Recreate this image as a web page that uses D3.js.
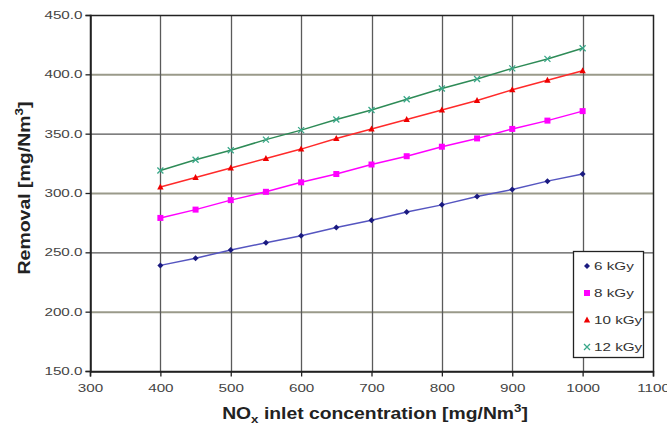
<!DOCTYPE html>
<html><head><meta charset="utf-8">
<script src="https://cdn.jsdelivr.net/npm/d3@7/dist/d3.min.js"></script>
<style>body{margin:0;background:#fff}svg{display:block}</style>
</head><body><svg id="c" width="667" height="427"></svg>
<script>
const xValues = [400,450,500,550,600,650,700,750,800,850,900,950,1000];
const s6  = [239,245,252,258,264,271,277,284,290,297,303,310,316];
const s8  = [279,286,294,301,309,316,324,331,339,346,354,361,369];
const s10 = [305,313,321,329,337,346,354,362,370,378,387,395,403];
const s12 = [319,328,336,345,353,362,370,379,388,396,405,413,422];
const seriesNames = ["6 kGy","8 kGy","10 kGy","12 kGy"];
const xTicks = [300,400,500,600,700,800,900,1000,1100];
const yTicks = [150,200,250,300,350,400,450];

const series = [
  {name: seriesNames[0], vals: s6,  line:"#5555c0", mark:"#1a1a80", shape:"diamond"},
  {name: seriesNames[1], vals: s8,  line:"#ff00ff", mark:"#ff00ff", shape:"square"},
  {name: seriesNames[2], vals: s10, line:"#ff2a2a", mark:"#ee0000", shape:"triangle"},
  {name: seriesNames[3], vals: s12, line:"#2e8b57", mark:"#3aa88a", shape:"cross"}
];

const FONT = "Arial, 'Liberation Sans', sans-serif";
const STRETCH = 1.45;
function stretch(sel){
  sel.each(function(){
    const w = this.getComputedTextLength();
    d3.select(this).attr("textLength", w*STRETCH).attr("lengthAdjust","spacingAndGlyphs");
  });
}

const svg = d3.select("#c");
const L=90,R=653,T=15,B=371;
const x = d3.scaleLinear().domain([300,1100]).range([L,R]);
const y = d3.scaleLinear().domain([150,450]).range([B,T]);

// gridlines
svg.append("g").selectAll("line").data(yTicks.filter(d=>d>150&&d<450)).join("line")
  .attr("x1",L).attr("x2",R).attr("y1",d=>y(d)+0.5).attr("y2",d=>y(d)+0.5)
  .attr("stroke",d=>(d%100===0)?"#9a9a8a":"#555").attr("stroke-width",d=>(d%100===0)?2:1.2);
svg.append("g").selectAll("line").data(xTicks.filter(d=>d>300&&d<1100)).join("line")
  .attr("y1",T).attr("y2",B).attr("x1",d=>Math.round(x(d))+0.5).attr("x2",d=>Math.round(x(d))+0.5)
  .attr("stroke","#5a5a5a").attr("stroke-width",1.3);

// border
svg.append("rect").attr("x",L+0.5).attr("y",T+0.5).attr("width",R-L).attr("height",B-T)
  .attr("fill","none").attr("stroke","#222").attr("stroke-width",1.5);

// axes
const xAxis = d3.axisBottom(x).tickValues(xTicks).tickSize(5).tickPadding(8).tickFormat(d3.format("d"));
const yAxis = d3.axisLeft(y).tickValues(yTicks).tickSize(5).tickPadding(3).tickFormat(d3.format(".1f"));
const gx = svg.append("g").attr("transform",`translate(0,${B+0.5})`).call(xAxis);
const gy = svg.append("g").attr("transform",`translate(${L+0.5},0)`).call(yAxis);
[gx,gy].forEach(g=>{
  g.select(".domain").attr("stroke","#222").attr("stroke-width",1.5);
  g.selectAll(".tick line").attr("stroke","#222").attr("stroke-width",1.3);
  g.selectAll(".tick text").attr("fill","#444").style("font-family",FONT).style("font-size","10.5px").call(stretch);
});

// lines and markers
const line = d3.line().x((d,i)=>x(xValues[i])).y(d=>y(d));
function marker(g, shape, color, cx, cy){
  if(shape==="diamond"){
    g.append("path").attr("d",`M${cx},${cy-3}L${cx+3},${cy}L${cx},${cy+3}L${cx-3},${cy}Z`).attr("fill",color);
  } else if(shape==="square"){
    g.append("rect").attr("x",cx-3).attr("y",cy-3).attr("width",6).attr("height",6).attr("fill",color);
  } else if(shape==="triangle"){
    g.append("path").attr("d",`M${cx},${cy-3.5}L${cx+3.2},${cy+2.5}L${cx-3.2},${cy+2.5}Z`).attr("fill",color);
  } else {
    g.append("path").attr("d",`M${cx-3},${cy-3}L${cx+3},${cy+3}M${cx-3},${cy+3}L${cx+3},${cy-3}`).attr("stroke",color).attr("stroke-width",1.3);
  }
}
series.forEach(s=>{
  const g = svg.append("g");
  g.append("path").datum(s.vals).attr("d",line).attr("fill","none").attr("stroke",s.line).attr("stroke-width",1.5);
  s.vals.forEach((v,i)=>marker(g,s.shape,s.mark,x(xValues[i]),y(v)));
});

// legend
const lg = svg.append("g");
lg.append("rect").attr("x",573.5).attr("y",251.5).attr("width",70).attr("height",106)
  .attr("fill","#fff").attr("stroke","#222").attr("stroke-width",1.3);
series.forEach((s,i)=>{
  const cy = 266 + i*27;
  marker(lg,s.shape,s.mark,587,cy);
  lg.append("text").attr("x",594).attr("y",cy+3.5).text(s.name)
    .attr("fill","#333").style("font-family",FONT).style("font-size","10.5px").call(stretch);
});

// axis titles
const xtg = svg.append("g");
const xt = xtg.append("text").attr("x",0).attr("y",0).attr("text-anchor","middle")
  .style("font-family",FONT).style("font-size","16px").style("font-weight","bold").attr("fill","#222");
xt.append("tspan").text("NO");
xt.append("tspan").text("x").attr("dy",4).style("font-size","11px");
xt.append("tspan").text(" inlet concentration [mg/Nm").attr("dy",-4);
xt.append("tspan").text("3").attr("dy",-7).style("font-size","11px");
xt.append("tspan").text("]").attr("dy",7);
{
  const w = xt.node().getBBox().width;
  xtg.attr("transform",`translate(375,419) scale(${306/w},1)`);
}

const ytg = svg.append("g");
const yt = ytg.append("text").attr("x",0).attr("y",0).attr("text-anchor","middle")
  .style("font-family",FONT).style("font-size","16px").style("font-weight","bold").attr("fill","#222");
yt.append("tspan").text("Removal [mg/Nm");
yt.append("tspan").text("3").attr("dy",-7).style("font-size","11px");
yt.append("tspan").text("]").attr("dy",7);
{
  const w = yt.node().getBBox().width;
  ytg.attr("transform",`translate(30,188) rotate(-90) scale(${173/w},1)`);
}
</script></body></html>
